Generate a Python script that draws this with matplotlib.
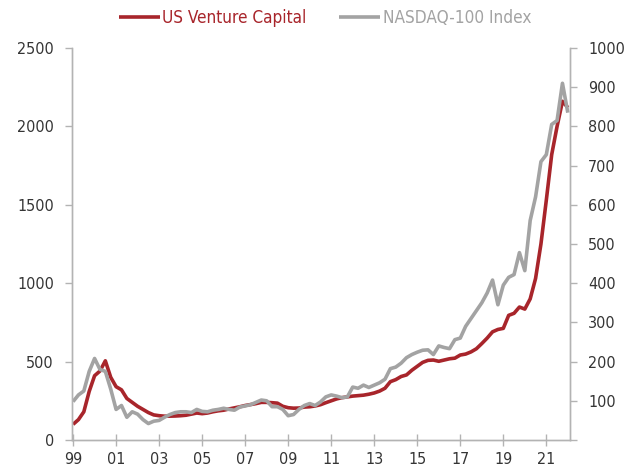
import matplotlib
matplotlib.use('Agg')
import matplotlib.pyplot as plt
import numpy as np

plt.rcParams['font.family'] = ['DejaVu Sans']
plt.rcParams['font.stretch'] = 'condensed'

# quarterly values, Q1 1999 .. Q1 2022
venture_capital = [
    100, 130, 180, 310, 410, 440, 505, 400, 340, 320, 265, 240, 215, 195, 175, 160,
    155, 152, 152, 153, 155, 158, 165, 172, 168, 172, 180, 186, 190, 198, 205, 212,
    220, 226, 232, 240, 240, 238, 235, 215, 206, 203, 204, 210, 212, 217, 225, 238,
    250, 262, 270, 275, 280, 283, 286, 292, 300, 312, 330, 372, 385, 405, 415, 445,
    470, 495, 508, 510, 502, 510, 518, 522, 542, 548, 562, 582, 615, 650, 690, 705,
    712, 795, 808, 848, 835, 900, 1030, 1250, 1530, 1820, 2000, 2160, 2120,
]
nasdaq_100 = [
    98, 115, 125, 175, 208, 180, 175, 130, 78, 88, 58, 72, 66, 52, 42, 48,
    50, 58, 65, 70, 72, 72, 70, 78, 73, 72, 76, 78, 81, 78, 76, 84,
    87, 90, 96, 102, 100, 85, 85, 78, 62, 65, 78, 88, 93, 88, 97, 110,
    115, 112, 108, 110, 135, 132, 140, 134, 140, 146, 155, 182, 186, 196, 210, 218,
    224, 229, 230, 218, 240, 236, 233, 256, 260, 290, 310, 330, 350, 375, 408, 345,
    395, 415, 422, 478, 432, 560, 620, 710, 728, 805, 815, 910, 835,
]
year_labels = ['99', '01', '03', '05', '07', '09', '11', '13', '15', '17', '19', '21']
left_ticks = [0, 500, 1000, 1500, 2000, 2500]
right_ticks = [0, 100, 200, 300, 400, 500, 600, 700, 800, 900, 1000]

red = '#a8252b'
grey = '#a3a3a3'
axis_grey = '#b3b3b3'
text_col = '#353535'

fig = plt.figure(figsize=(6.31, 4.71), dpi=100)
ax = fig.add_axes([0.1141, 0.0658, 0.7892, 0.8323])
ax2 = ax.twinx()

x = np.arange(len(venture_capital))
l1, = ax.plot(x, venture_capital, color=red, linewidth=2.6, solid_capstyle='butt')
l2, = ax2.plot(x, nasdaq_100, color=grey, linewidth=2.6, solid_capstyle='butt')

ax.set_xlim(-0.2, 92.4)
ax.set_ylim(0, 2500)
ax2.set_ylim(0, 1000)

ax.set_xticks(np.arange(0, 8 * len(year_labels), 8))
ax.set_xticklabels(year_labels)
ax.set_yticks(left_ticks)
ax2.set_yticks(right_ticks)
ax2.set_yticklabels([''] + [str(t) for t in right_ticks[1:]])

for a in (ax, ax2):
    a.spines['top'].set_visible(False)
    for s in ('left', 'right', 'bottom'):
        a.spines[s].set_color(axis_grey)
        a.spines[s].set_linewidth(1.0)
    a.tick_params(axis='y', colors=axis_grey, labelcolor=text_col,
                  labelsize=11.5, length=5, width=1.0, pad=8)
ax.tick_params(axis='x', direction='inout', colors=axis_grey, labelcolor=text_col,
               labelsize=11.5, length=9, width=1.0, pad=4)

fig.legend([l1, l2], ['US Venture Capital', 'NASDAQ-100 Index'],
           loc='center', bbox_to_anchor=(0.515, 0.962), ncol=2, frameon=False,
           fontsize=12.3, handlelength=2.4, handletextpad=0.15, columnspacing=1.9,
           labelcolor=[red, grey])

fig.savefig('out.png', dpi=100)
